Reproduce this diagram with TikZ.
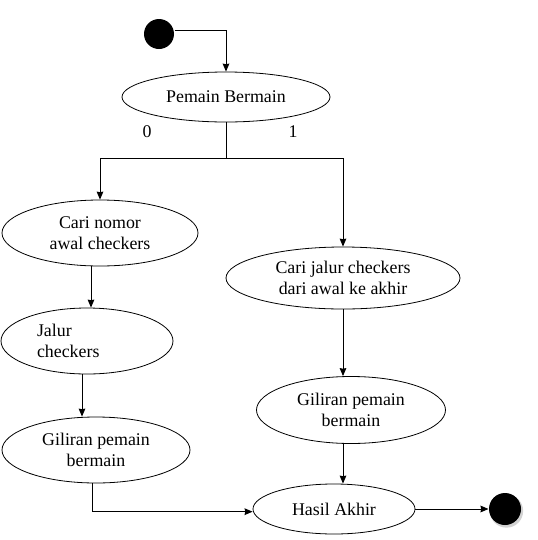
\documentclass[tikz,border=0pt]{standalone}
\usepackage{fontspec}
\setmainfont{Liberation Serif}
\usetikzlibrary{shapes.geometric,positioning,arrows.meta}

\begin{document}
\begin{tikzpicture}[x=0.75pt,y=-0.75pt,>={Stealth[length=6pt,width=5pt,inset=0.5pt]},line width=0.75pt,
    state/.style={ellipse,draw,line width=0.6pt,inner sep=0pt,align=center,font=\fontsize{13.4}{15.5}\selectfont},
    dot/.style={circle,fill=black,inner sep=0pt},
    lbl/.style={font=\fontsize{13.4}{15.5}\selectfont}]
    \useasboundingbox (0,0) rectangle (537,540);

    \node[dot,minimum size=22.5pt] (start) at (159,34) {};
    \node[state,minimum width=156pt,minimum height=37.5pt] (bermain) at (226,97) {Pemain Bermain};
    \node[lbl] (nol) at (147,132) {0};
    \node[lbl] (satu) at (293,132) {1};
    \coordinate (split) at (226,158);

    \node[state,minimum width=147pt,minimum height=49.5pt] (nomor) at (100,233) {Cari nomor\\awal checkers};
    \node[state,minimum width=129pt,minimum height=49.5pt,text width=75pt,align=left] (jalur) at (87,341) {Jalur\\checkers};
    \node[state,minimum width=141pt,minimum height=49.5pt] (giliranA) at (96,450) {Giliran pemain\\bermain};

    \node[state,minimum width=175.5pt,minimum height=46.5pt] (awalakhir) at (343,278) {Cari jalur checkers\\dari awal ke akhir};
    \node[state,minimum width=141.75pt,minimum height=50.25pt] (giliranB) at (351,410) {Giliran pemain\\bermain};
    \node[state,minimum width=121.5pt,minimum height=37.5pt] (hasil) at (334,509) {Hasil Akhir};

    \fill[gray!35] (506.5,511) circle (12.5pt);
    \node[dot,minimum size=24pt] (stop) at (505,509) {};

    \draw[->] ([yshift=3pt]start.east) -| (bermain.north);
    \draw (bermain.south) -- (split);
    \draw[->] (split) -| (nomor.north);
    \draw[->] (split) -| (awalakhir.north);
    \draw[->] ([xshift=-6.75pt]nomor.south) -- ([xshift=3pt]jalur.north);
    \draw[->] ([xshift=-3.75pt]jalur.south) -- ([xshift=-10.5pt]giliranA.north);
    \draw[->] ([xshift=-3pt]giliranA.south) |- ([yshift=-2pt]hasil.west);
    \draw[->] (awalakhir.south) -- ([xshift=-6pt]giliranB.north);
    \draw[->] ([xshift=-6pt]giliranB.south) -- ([xshift=6.75pt]hasil.north);
    \draw[->] (hasil.east) -- (stop.west);
\end{tikzpicture}
\end{document}
